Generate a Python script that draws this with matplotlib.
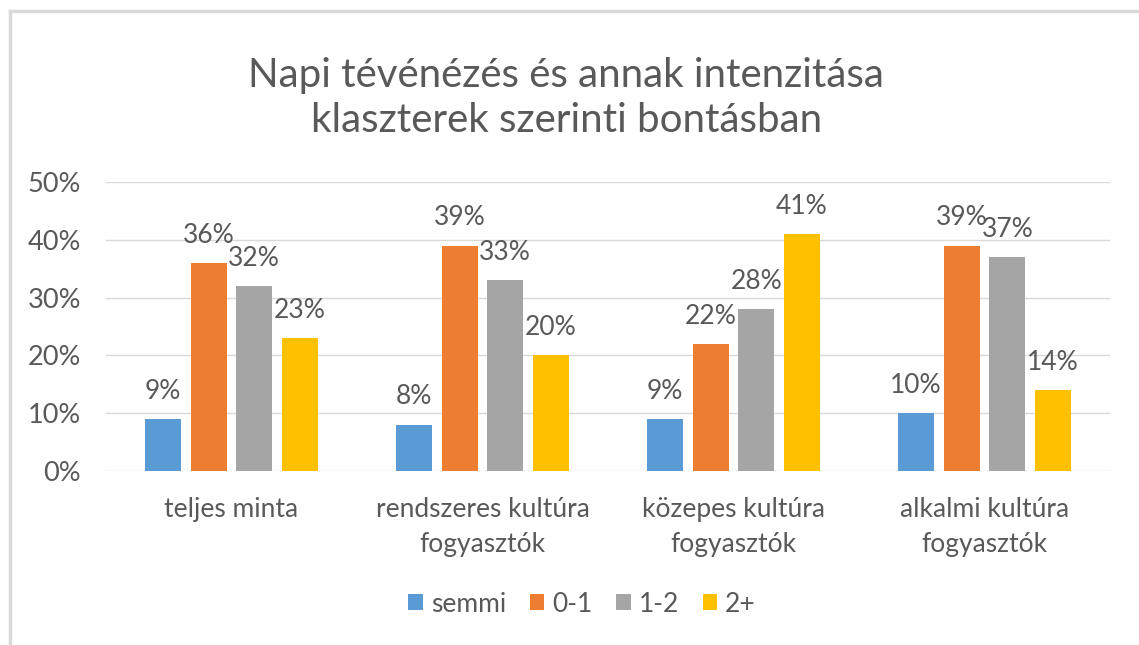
import numpy as np
import matplotlib.pyplot as plt
from matplotlib.lines import Line2D

categories = ["teljes minta", "rendszeres kultúra\nfogyasztók",
              "közepes kultúra\nfogyasztók", "alkalmi kultúra\nfogyasztók"]
series_names = ["semmi", "0-1", "1-2", "2+"]
semmi = [9, 8, 9, 10]
nulla_egy = [36, 39, 22, 39]
egy_ketto = [32, 33, 28, 37]
ketto_plusz = [23, 20, 41, 14]
yticks = [0, 10, 20, 30, 40, 50]

colors = ["#5B9BD5", "#ED7D31", "#A5A5A5", "#FFC000"]
text_col = "#595959"

plt.rcParams['font.family'] = ['Lato', 'DejaVu Sans']

fig = plt.figure(figsize=(11.39, 6.45), dpi=100)
ax = fig.add_axes([0.093, 0.2698, 0.8815, 0.448])

x = np.arange(len(categories))
width = 0.143
step = 0.182
all_series = [semmi, nulla_egy, egy_ketto, ketto_plusz]
for i, vals in enumerate(all_series):
    pos = x + (i - 1.5) * step
    bars = ax.bar(pos, vals, width, color=colors[i], label=series_names[i], zorder=3)
    for b, v in zip(bars, vals):
        ax.annotate(f"{v}%", (b.get_x() + b.get_width() / 2, v),
                    xytext=(0, 11), textcoords="offset points",
                    ha="center", va="bottom", fontsize=19, color=text_col)

ax.set_ylim(0, 50)
ax.set_xlim(-0.5, len(categories) - 0.5)
ax.set_yticks(yticks)
ax.set_yticklabels([f"{t}%" for t in yticks])
ax.set_xticks(x)
ax.set_xticklabels(categories, linespacing=1.5)
ax.grid(axis="y", color="#D9D9D9", linewidth=1, zorder=0)
for s in ax.spines.values():
    s.set_visible(False)
ax.tick_params(axis="both", length=0, colors=text_col)
ax.tick_params(axis="y", pad=18, labelsize=19.5)
ax.tick_params(axis="x", pad=19, labelsize=19)

fig.text(0.497, 1 - 98 / 645, "Napi tévénézés és annak intenzitása\nklaszterek szerinti bontásban",
         ha="center", va="center", fontsize=29, color=text_col, linespacing=1.28)

leg = fig.legend(loc="center", bbox_to_anchor=(0.511, 1 - 604 / 645), ncol=4,
                 frameon=False, fontsize=19, handlelength=0.55, handleheight=0.55,
                 handletextpad=0.3, columnspacing=0.9)
for t in leg.get_texts():
    t.set_color(text_col)

# outer chart border
fig.add_artist(Line2D([10 / 1139, 10 / 1139], [0, 1 - 11 / 645], color="#D9D9D9", lw=2.5,
                      transform=fig.transFigure))
fig.add_artist(Line2D([10 / 1139, 1], [1 - 11 / 645, 1 - 11 / 645], color="#D9D9D9", lw=2.5,
                      transform=fig.transFigure))

fig.savefig("out.png", dpi=100)
